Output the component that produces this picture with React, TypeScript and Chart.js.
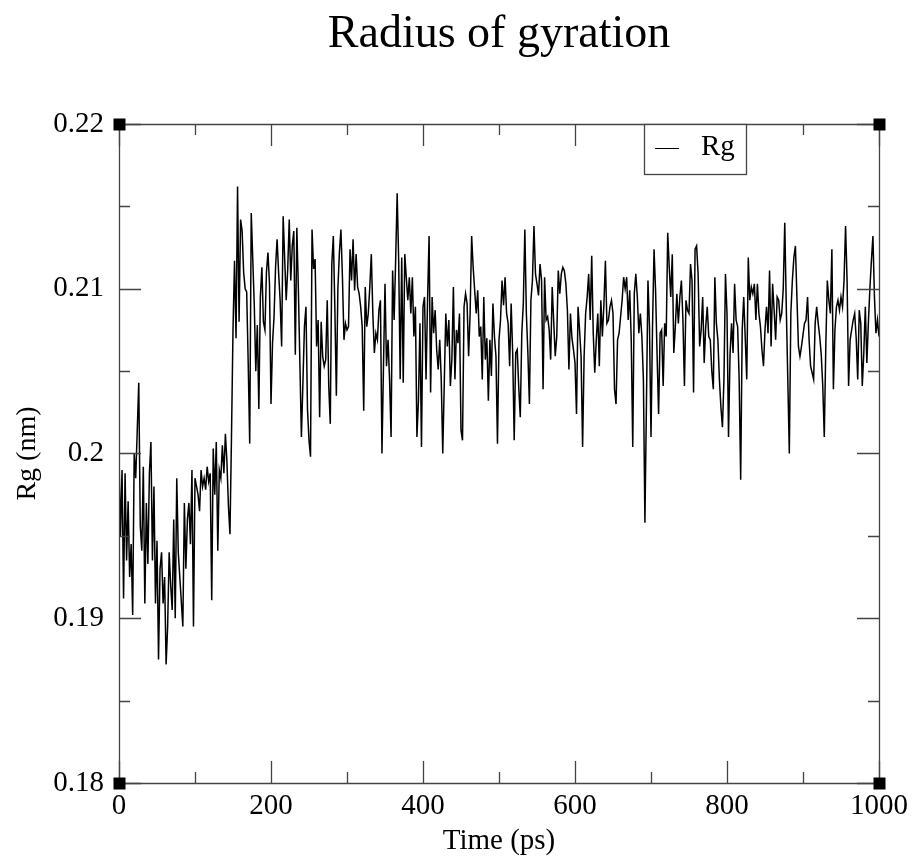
import React, { useEffect, useRef } from 'react';
import { Chart, registerables } from 'chart.js';

Chart.register(...registerables);

const SERIF = '"Liberation Serif", "Times New Roman", Times, serif';

const TITLE = 'Radius of gyration';
const X_TITLE = 'Time (ps)';
const Y_TITLE = 'Rg (nm)';
const SERIES_LABEL = 'Rg';

const TIME_STEP_PS = 2;

const X_MAJOR_TICKS = [0, 200, 400, 600, 800, 1000];
const X_MINOR_TICKS = [100, 300, 500, 700, 900];
const Y_MAJOR_TICKS = [0.18, 0.19, 0.2, 0.21, 0.22];
const Y_TICK_LABELS = ['0.18', '0.19', '0.2', '0.21', '0.22'];
const Y_MINOR_TICKS = [0.185, 0.195, 0.205, 0.215];

// Rg (nm), one value every 2 ps
const RG_FROM_0 = [
  0.1998, 0.1950, 0.1990, 0.1912, 0.1988, 0.1935, 0.1971, 0.1925, 0.1945, 0.1902,
  0.2000, 0.1985, 0.2014, 0.2043, 0.1956, 0.1941, 0.1992, 0.1909, 0.1970, 0.1933,
  0.1988, 0.2007, 0.1935, 0.1980, 0.1909, 0.1947, 0.1875, 0.1930, 0.1940, 0.1909,
  0.1925, 0.1872, 0.1895, 0.1940, 0.1920, 0.1905, 0.1960, 0.1900, 0.1985, 0.1940,
  0.1925, 0.1910, 0.1895, 0.1970, 0.1930, 0.1960, 0.1970, 0.1945, 0.1990, 0.1895,
  0.1985, 0.1980, 0.1975, 0.1965, 0.1990, 0.1980, 0.1985, 0.1978, 0.1992, 0.1983,
  0.1988, 0.1911, 0.2003, 0.1975, 0.2007, 0.1941, 0.1990, 0.1985, 0.2005, 0.1988,
  0.2012, 0.1995, 0.1968, 0.1951, 0.2010,
];

const RG_FROM_150 = [
  0.2075, 0.2117, 0.2070, 0.2162, 0.2080, 0.2142, 0.2135, 0.2110, 0.2100, 0.2098,
  0.2055, 0.2006, 0.2146, 0.2118, 0.2090, 0.2050, 0.2078, 0.2027, 0.2095, 0.2113,
  0.2080, 0.2075, 0.2110, 0.2122, 0.2103, 0.2030, 0.2067, 0.2083, 0.2113, 0.2130,
  0.2110, 0.2093, 0.2065, 0.2144, 0.2118, 0.2093, 0.2112, 0.2142, 0.2105, 0.2126,
  0.2135, 0.2060, 0.2137, 0.2100, 0.2055, 0.2010, 0.2043, 0.2077, 0.2089, 0.2027,
  0.2008, 0.1998, 0.2136, 0.2112, 0.2118, 0.2065, 0.2081, 0.2022, 0.2080, 0.2059,
  0.2053, 0.2057, 0.2093, 0.2041, 0.2018, 0.2115, 0.2132, 0.2089, 0.2035, 0.2100,
  0.2122, 0.2136, 0.2107, 0.2069, 0.2079, 0.2075, 0.2077, 0.2124, 0.2105, 0.2130,
  0.2099,
];

const RG_FROM_312 = [
  0.2121, 0.2101, 0.2097, 0.2089, 0.2077, 0.2026, 0.2101, 0.2077, 0.2085, 0.2101,
  0.2121, 0.2085, 0.2061, 0.2073, 0.2069, 0.2087, 0.2093, 0.2000, 0.2053, 0.2103,
  0.2053, 0.2069, 0.2045, 0.2010, 0.2111, 0.2081, 0.2117, 0.2158, 0.2117, 0.2045,
  0.2119, 0.2043, 0.2121, 0.2107, 0.2093, 0.2107, 0.2085, 0.2107, 0.2071, 0.2089,
  0.2010, 0.2032, 0.2079, 0.2004, 0.2089, 0.2095, 0.2045, 0.2093, 0.2132, 0.2037,
  0.2095, 0.2073, 0.2087, 0.2063, 0.2051, 0.2069, 0.2045, 0.2000, 0.2043, 0.2085,
  0.2065, 0.2081, 0.2041, 0.2057, 0.2101, 0.2045, 0.2075, 0.2067, 0.2085, 0.2014,
  0.2008, 0.2089, 0.2097, 0.2091, 0.2059, 0.2085, 0.2132, 0.2113, 0.2099, 0.2085,
];

const RG_FROM_472 = [
  0.2099, 0.2071, 0.2077, 0.2045, 0.2095, 0.2057, 0.2070, 0.2032, 0.2069, 0.2047,
  0.2091, 0.2071, 0.2059, 0.2006, 0.2069, 0.2081, 0.2105, 0.2090, 0.2107, 0.2085,
  0.2079, 0.2053, 0.2091, 0.2061, 0.2008, 0.2061, 0.2063, 0.2040, 0.2022, 0.2073,
  0.2091, 0.2136, 0.2085, 0.2061, 0.2030, 0.2093, 0.2105, 0.2138, 0.2109, 0.2103,
  0.2096, 0.2115, 0.2105, 0.2039, 0.2107, 0.2081, 0.2083, 0.2075, 0.2057, 0.2101,
  0.2080, 0.2059, 0.2071, 0.2111, 0.2097, 0.2109, 0.2113, 0.2111, 0.2103, 0.2087,
  0.2051, 0.2085, 0.2070, 0.2063, 0.2055, 0.2024, 0.2089, 0.2075, 0.2059, 0.2004,
  0.2059, 0.2085, 0.2095, 0.2109, 0.2081, 0.2120, 0.2073, 0.2049, 0.2069, 0.2085,
  0.2053, 0.2093, 0.2071, 0.2090, 0.2117, 0.2079, 0.2081, 0.2089, 0.2093, 0.2085,
  0.2039, 0.2030, 0.2069, 0.2073, 0.2083, 0.2093, 0.2107, 0.2100, 0.2107, 0.2081,
  0.2099, 0.2069, 0.2004, 0.2097, 0.2109, 0.2095, 0.2073, 0.2085, 0.2071, 0.2045,
  0.1958, 0.2030, 0.2105, 0.2077, 0.2010, 0.2077, 0.2124, 0.2099, 0.2060, 0.2024,
  0.2073, 0.2075, 0.2041, 0.2079, 0.2071, 0.2134, 0.2113,
];

const RG_FROM_726 = [
  0.2095, 0.2121, 0.2061, 0.2077, 0.2097, 0.2079, 0.2095, 0.2105, 0.2081, 0.2041,
  0.2093, 0.2087, 0.2085, 0.2115, 0.2105, 0.2037, 0.2124, 0.2126, 0.2109, 0.2065,
  0.2075, 0.2095, 0.2055, 0.2077, 0.2089, 0.2071, 0.2069, 0.2050, 0.2039, 0.2107,
  0.2079, 0.2069, 0.2045, 0.2028, 0.2016, 0.2045, 0.2109, 0.2085, 0.2010, 0.2060,
  0.2079, 0.2061, 0.2103, 0.2081, 0.2077, 0.2045, 0.1984, 0.2075, 0.2095, 0.2070,
  0.2045, 0.2119, 0.2093, 0.2101, 0.2097, 0.2103, 0.2081, 0.2103, 0.2085, 0.2077,
  0.2063, 0.2053, 0.2075, 0.2089, 0.2073, 0.2111, 0.2065, 0.2103, 0.2087, 0.2069,
  0.2095, 0.2093, 0.2081, 0.2085, 0.2100, 0.2140, 0.2089, 0.2045, 0.2000, 0.2085,
  0.2105, 0.2119, 0.2126, 0.2095, 0.2065, 0.2059, 0.2065, 0.2072, 0.2079, 0.2081,
  0.2095, 0.2069, 0.2053, 0.2049, 0.2045, 0.2079, 0.2089, 0.2079, 0.2071, 0.2060,
  0.2041, 0.2010, 0.2065, 0.2105, 0.2093, 0.2085, 0.2124, 0.2039, 0.2075, 0.2089,
  0.2093, 0.2087, 0.2095, 0.2089, 0.2105, 0.2138, 0.2105, 0.2041, 0.2069, 0.2075,
  0.2081, 0.2085, 0.2070, 0.2045, 0.2087, 0.2079, 0.2041, 0.2061, 0.2089, 0.2055,
  0.2079, 0.2100, 0.2117, 0.2132, 0.2095, 0.2073, 0.2081, 0.2071,
];

const SEGMENT_STARTS = [0, 150, 312, 472, 726];
const SEGMENT_VALUES = [RG_FROM_0, RG_FROM_150, RG_FROM_312, RG_FROM_472, RG_FROM_726];

const gracePlugin = {
  id: 'graceFrame',
  afterDatasetsDraw(chart: any) {
    const { ctx, chartArea, scales } = chart;
    const { left, right, top, bottom } = chartArea;
    const xs = scales.x;
    const ys = scales.y;
    const snap = (v: number) => Math.round(v) + 0.5;
    ctx.save();
    ctx.strokeStyle = '#444';
    ctx.lineWidth = 1.3;
    // frame
    ctx.beginPath();
    ctx.rect(snap(left), snap(top), Math.round(right) - Math.round(left), Math.round(bottom) - Math.round(top));
    ctx.stroke();
    // ticks, pointing inward on all four sides
    const drawX = (v: number, len: number) => {
      const px = snap(xs.getPixelForValue(v));
      ctx.beginPath();
      ctx.moveTo(px, bottom);
      ctx.lineTo(px, bottom - len);
      ctx.moveTo(px, top);
      ctx.lineTo(px, top + len);
      ctx.stroke();
    };
    const drawY = (v: number, len: number) => {
      const py = snap(ys.getPixelForValue(v));
      ctx.beginPath();
      ctx.moveTo(left, py);
      ctx.lineTo(left + len, py);
      ctx.moveTo(right, py);
      ctx.lineTo(right - len, py);
      ctx.stroke();
    };
    X_MAJOR_TICKS.forEach((v) => drawX(v, 22));
    X_MINOR_TICKS.forEach((v) => drawX(v, 11));
    Y_MAJOR_TICKS.forEach((v) => drawY(v, 22));
    Y_MINOR_TICKS.forEach((v) => drawY(v, 11));
    // corner squares
    ctx.fillStyle = '#000';
    const sq = 12;
    [[left, top], [right, top], [left, bottom], [right, bottom]].forEach(([cx, cy]) => {
      ctx.fillRect(Math.round(cx) - sq / 2 + 0.5, Math.round(cy) - sq / 2 + 0.5, sq, sq);
    });
    // legend box
    const boxRight = Math.round(right) - 133;
    const boxLeft = boxRight - 102;
    const boxTop = Math.round(top);
    const boxH = 50;
    ctx.fillStyle = '#fff';
    ctx.fillRect(boxLeft, boxTop, boxRight - boxLeft, boxH);
    ctx.strokeStyle = '#444';
    ctx.strokeRect(boxLeft + 0.5, boxTop + 0.5, boxRight - boxLeft, boxH);
    const ds = chart.data.datasets[0];
    ctx.strokeStyle = '#000';
    ctx.lineWidth = 1;
    ctx.beginPath();
    ctx.moveTo(boxLeft + 11, boxTop + 24.5);
    ctx.lineTo(boxLeft + 35, boxTop + 24.5);
    ctx.stroke();
    ctx.fillStyle = '#000';
    ctx.font = `29px ${SERIF}`;
    ctx.textAlign = 'left';
    ctx.textBaseline = 'alphabetic';
    ctx.fillText(ds.label, boxLeft + 57, boxTop + 31);
    ctx.restore();
  },
};

export default function App() {
  const canvasRef = useRef<HTMLCanvasElement | null>(null);

  useEffect(() => {
    if (!canvasRef.current) return;
    const points = SEGMENT_VALUES.flatMap((vals, s) =>
      vals.map((v, i) => ({ x: SEGMENT_STARTS[s] + i * TIME_STEP_PS, y: v }))
    );
    const chart = new Chart(canvasRef.current, {
      type: 'line',
      data: {
        datasets: [
          {
            label: SERIES_LABEL,
            data: points,
            borderColor: '#000',
            borderWidth: 1.5,
            pointRadius: 0,
            fill: false,
            tension: 0,
          },
        ],
      },
      options: {
        responsive: false,
        animation: false,
        devicePixelRatio: 1,
        layout: { padding: { left: 0, right: 34, top: 0, bottom: 0 } },
        plugins: {
          legend: { display: false },
          tooltip: { enabled: false },
          title: {
            display: true,
            text: TITLE,
            color: '#000',
            fullSize: false,
            font: { family: SERIF, size: 46, weight: 'normal', lineHeight: 1.2 },
            padding: { top: 7, bottom: 61.8 },
          },
        },
        scales: {
          x: {
            type: 'linear',
            min: 0,
            max: 1000,
            grid: { display: false, drawTicks: false },
            border: { display: false },
            ticks: {
              stepSize: 200,
              padding: 6,
              color: '#000',
              maxRotation: 0,
              autoSkip: false,
              font: { family: SERIF, size: 29 },
              callback: (v: any) => String(v),
            },
            title: {
              display: true,
              text: X_TITLE,
              color: '#000',
              font: { family: SERIF, size: 29, lineHeight: 1 },
              padding: { top: 0, bottom: 0.5 },
            },
            afterFit: (s: any) => {
              s.height = 73;
            },
          },
          y: {
            type: 'linear',
            min: 0.18,
            max: 0.22,
            grid: { display: false, drawTicks: false },
            border: { display: false },
            ticks: {
              stepSize: 0.01,
              padding: 15,
              color: '#000',
              autoSkip: false,
              font: { family: SERIF, size: 29 },
              callback: (_v: any, i: number) => Y_TICK_LABELS[i],
            },
            title: {
              display: true,
              text: Y_TITLE,
              color: '#000',
              font: { family: SERIF, size: 28, lineHeight: 1.2 },
              padding: { top: 11, bottom: 0 },
            },
            afterFit: (s: any) => {
              s.width = 119;
            },
          },
        },
      },
      plugins: [gracePlugin],
    });
    return () => chart.destroy();
  }, []);

  return (
    <div style={{ position: 'absolute', left: 0, top: 0, width: 914, height: 856, background: '#fff' }}>
      <canvas ref={canvasRef} width={914} height={856} style={{ display: 'block' }} />
    </div>
  );
}
